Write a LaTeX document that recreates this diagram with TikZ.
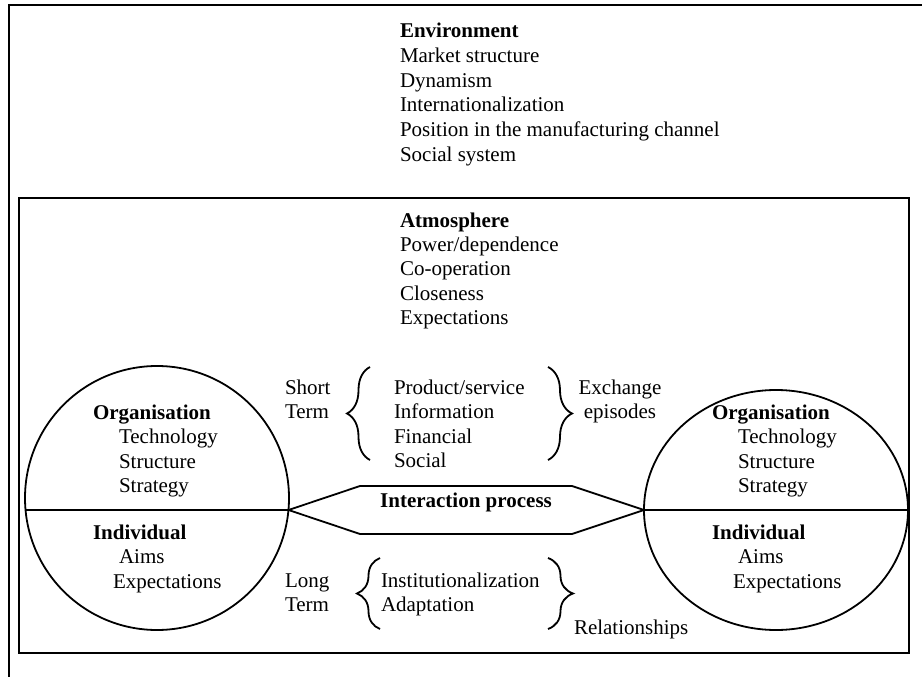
\documentclass[tikz,border=0pt]{standalone}
\usepackage{fontspec}
\setmainfont{Liberation Serif}
\usetikzlibrary{decorations.pathreplacing}
\begin{document}
\begin{tikzpicture}[x=1pt,y=-1pt,
  txt/.style={anchor=base west,inner sep=0pt,outer sep=0pt,font=\fontsize{21}{24.6}\selectfont},
  ctxt/.style={txt,anchor=base},
  frameline/.style={line width=2.4pt},
  outline/.style={line width=1.8pt},
  curly/.style={line width=1.8pt,decorate,decoration={brace,amplitude=#1}}]
\useasboundingbox (0,0) rectangle (922,677);

% outer environment frame (open on the right and at the bottom)
\coordinate (envR) at (922,5);
\coordinate (envTL) at (9,5);
\coordinate (envB) at (9,677);
\draw[frameline] (envR) -- (envTL) -- (envB);

% atmosphere box
\coordinate (atmTL) at (19,198);
\coordinate (atmBR) at (909,653);
\draw[frameline] (atmTL) rectangle (atmBR);

% environment
\node[txt] (env0) at (400,38) {\textbf{Environment}};
\foreach \t [count=\i] in {Market structure,Dynamism,Internationalization,Position in the manufacturing channel,Social system}
  \node[txt] (env\i) at (400,38+24.6*\i) {\t};

% atmosphere
\node[txt] (atm0) at (400,227) {\textbf{Atmosphere}};
\foreach \t [count=\i] in {Power/dependence,Co-operation,Closeness,Expectations}
  \node[txt] (atm\i) at (400,227+24.4*\i) {\t};

% left party
\draw[outline] (157,498) circle[radius=132];
\coordinate (lA) at (25.5,510);
\coordinate (lB) at (288.5,510);
\draw[outline] (lA) -- (lB);
\node[txt] (lorg) at (93,419) {\textbf{Organisation}};
\node[txt] (ltec) at (119,443.6) {Technology};
\node[txt] (lstr) at (119,468.2) {Structure};
\node[txt] (lsta) at (119,492.8) {Strategy};
\node[txt] (lind) at (93,539) {\textbf{Individual}};
\node[txt] (laim) at (119,563.6) {Aims};
\node[txt] (lexp) at (113,588.2) {Expectations};

% right party
\draw[outline] (776,510) ellipse[x radius=132,y radius=120];
\coordinate (rA) at (644,510);
\coordinate (rB) at (908,510);
\draw[outline] (rA) -- (rB);
\node[txt] (rorg) at (712,419) {\textbf{Organisation}};
\node[txt] (rtec) at (738,443.6) {Technology};
\node[txt] (rstr) at (738,468.2) {Structure};
\node[txt] (rsta) at (738,492.8) {Strategy};
\node[txt] (rind) at (712,539) {\textbf{Individual}};
\node[txt] (raim) at (738,563.6) {Aims};
\node[txt] (rexp) at (733,588.2) {Expectations};

% interaction process
\draw[outline,line join=miter] (lB) -- (360,486) -- (572,486) -- (rA) -- (572,534) -- (360,534) -- cycle;
\node[ctxt] (ip) at (466,507) {\textbf{Interaction process}};

% short term exchange episodes
\node[txt] (st1) at (285,394) {Short};
\node[txt] (st2) at (285,418.6) {Term};
\draw[curly=23pt] (370,460) -- (370,367);
\node[txt] (ex1) at (394,394) {Product/service};
\node[txt] (ex2) at (394,418.6) {Information};
\node[txt] (ex3) at (394,443.2) {Financial};
\node[txt] (ex4) at (394,467.8) {Social};
\draw[curly=24pt] (548,367) -- (548,460);
\node[ctxt] (eps1) at (620,394) {Exchange};
\node[ctxt] (eps2) at (620,418.6) {episodes};

% long term relationships
\node[txt] (lt1) at (285,587) {Long};
\node[txt] (lt2) at (285,611.6) {Term};
\draw[curly=23pt] (380,629) -- (380,558);
\node[txt] (rel1) at (381,587) {Institutionalization};
\node[txt] (rel2) at (381,611.6) {Adaptation};
\draw[curly=25pt] (548,558) -- (548,629);
\node[txt] (rels) at (574,634) {Relationships};
\end{tikzpicture}
\end{document}
